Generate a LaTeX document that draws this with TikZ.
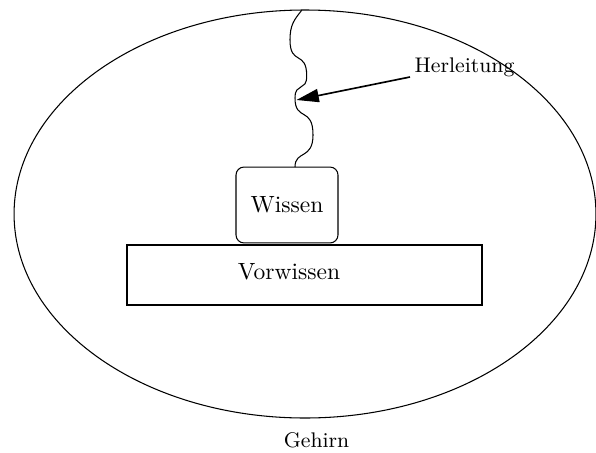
\documentclass[tikz,border=0pt]{standalone}
\usetikzlibrary{shapes.geometric,arrows.meta}
\begin{document}
\begin{tikzpicture}[x=0.4255pt,y=-0.4255pt,
  thinline/.style={line width=0.45pt},
  lbl/.style={inner sep=0pt,font=\small},
  wissenbox/.style={draw,thinline,rounded corners=3.4pt,minimum width=43.4pt,minimum height=32.3pt,inner sep=0pt},
  vorbox/.style={draw,line width=0.85pt,minimum width=151pt,minimum height=25.5pt,inner sep=0pt},
  arr/.style={line width=0.7pt,-{Triangle[length=9.5pt,width=5.6pt]}}]
\useasboundingbox (0,0) rectangle (596,452);
\node[ellipse,draw,thinline,inner sep=0pt,minimum width=247.6pt,minimum height=173.6pt] (gehirn) at (305,214) {};
\node[lbl] (gehirnlbl) at (316.5,440) {Gehirn};
\node[vorbox] (vor) at (304.5,275) {};
\node[inner sep=0pt] (vortext) at (289,272) {Vorwissen};
\node[wissenbox] (wissen) at (287,205) {Wissen};
\node[lbl] (herl) at (464.5,67) {Herleitung};
\coordinate (wtop) at (295,167);
\coordinate (etop) at (301.7,10.3);
\draw[thinline] (etop) .. controls (294,20) and (290,25) .. (290,40)
  .. controls (290,66) and (306.7,50) .. (306.7,76)
  .. controls (306.7,92) and (295,82) .. (295,98)
  .. controls (295,122) and (313,106) .. (313,135)
  .. controls (313,160) and (295,150) .. (wtop);
\coordinate (arrstart) at (410,77);
\coordinate (arrtip) at (296.5,100);
\draw[arr] (arrstart) -- (arrtip);
\end{tikzpicture}
\end{document}
